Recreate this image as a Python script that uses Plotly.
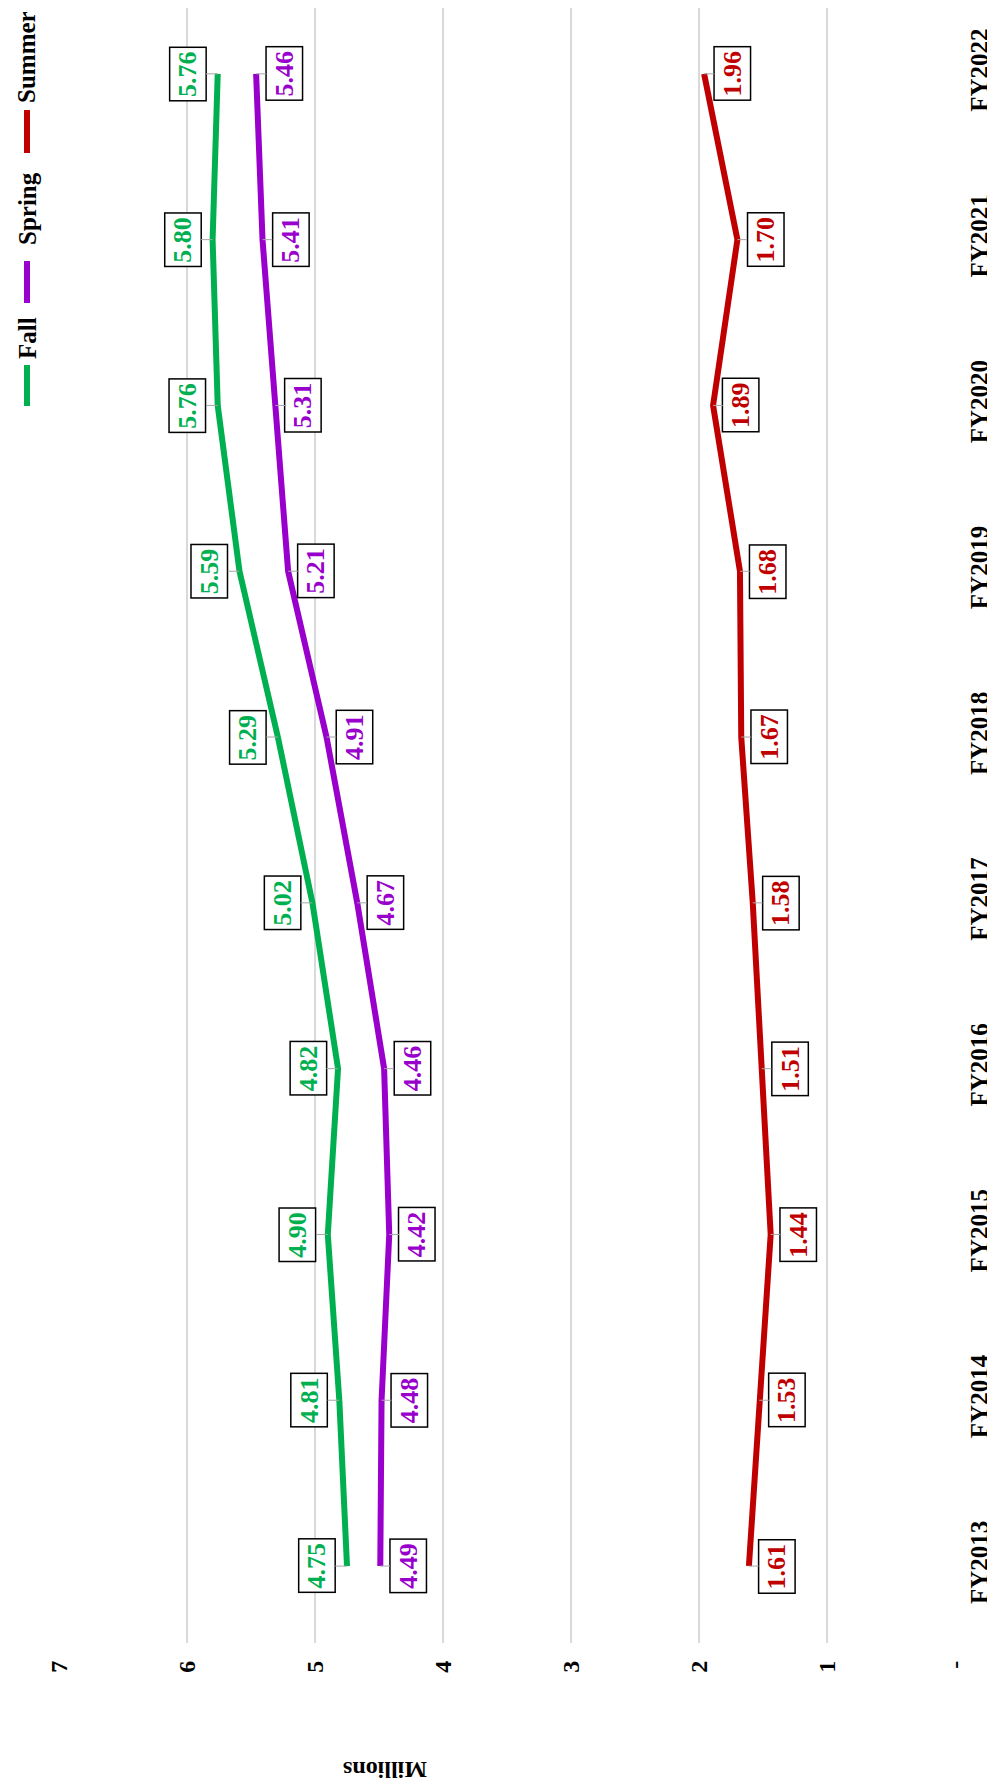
import plotly.graph_objects as go

categories = ["FY2013", "FY2014", "FY2015", "FY2016", "FY2017",
              "FY2018", "FY2019", "FY2020", "FY2021", "FY2022"]
fall = [4.75, 4.81, 4.90, 4.82, 5.02, 5.29, 5.59, 5.76, 5.80, 5.76]
spring = [4.49, 4.48, 4.42, 4.46, 4.67, 4.91, 5.21, 5.31, 5.41, 5.46]
summer = [1.61, 1.53, 1.44, 1.51, 1.58, 1.67, 1.68, 1.89, 1.70, 1.96]
value_ticks = [0, 1, 2, 3, 4, 5, 6, 7]
value_tick_labels = ["-", "1", "2", "3", "4", "5", "6", "7"]

series = [
    ("Fall", fall, "#00B050", -30),
    ("Spring", spring, "#9900CC", 28),
    ("Summer", summer, "#C00000", 28),
]

FONT = "Liberation Serif"
W, H = 995, 1784
ML, MR, MT, MB = 51, 48, 0, 149
PW, PH = W - ML - MR, H - MT - MB


def px(x):
    return (x - ML) / PW


def py(y):
    return 1 - (y - MT) / PH


fig = go.Figure()
annotations = []
for name, vals, color, dx in series:
    fig.add_trace(go.Scatter(
        x=vals, y=categories, mode="lines", name=name,
        line=dict(color=color, width=6), showlegend=False,
    ))
    for c, v in zip(categories, vals):
        annotations.append(dict(
            x=v, y=c, xref="x", yref="y", text=f"<b>{v:.2f}</b>",
            textangle=-90, font=dict(family=FONT, size=26, color=color),
            bgcolor="white", bordercolor="black", borderwidth=1.5, borderpad=3,
            showarrow=True, arrowhead=0, arrowcolor="#A6A6A6", arrowwidth=1,
            ax=dx, ay=0, standoff=0,
        ))

# axis title
annotations.append(dict(
    x=px(377), y=py(1762), xref="paper", yref="paper", text="<b>Millions</b>",
    textangle=180, showarrow=False, xanchor="center", yanchor="middle",
    font=dict(family=FONT, size=24, color="black"),
))

# manual rotated legend
legend_items = [("Summer", "#C00000", 49, 102, 145),
                ("Spring", "#9900CC", 201, 253, 295),
                ("Fall", "#00B050", 330, 357, 398)]
shapes = []
for name, color, ty, y0, y1 in legend_items:
    annotations.append(dict(
        x=px(19), y=py(ty), xref="paper", yref="paper", text=f"<b>{name}</b>",
        textangle=-90, showarrow=False, xanchor="center", yanchor="middle",
        font=dict(family=FONT, size=25, color="black"),
    ))
    shapes.append(dict(
        type="line", xref="paper", yref="paper",
        x0=px(19), x1=px(19), y0=py(y0), y1=py(y1),
        line=dict(color=color, width=6),
    ))

fig.update_layout(
    width=W, height=H,
    margin=dict(l=ML, r=MR, t=MT, b=MB),
    paper_bgcolor="white", plot_bgcolor="white",
    annotations=annotations, shapes=shapes,
    showlegend=False,
    xaxis=dict(
        range=[7, 0], tickvals=value_ticks, ticktext=value_tick_labels,
        tickangle=-90, showgrid=True, gridcolor="#D9D9D9", gridwidth=1.5,
        zeroline=False, showline=False, ticks="",
        tickfont=dict(family=FONT, size=24, color="black", weight="bold"),
        ticklabelstandoff=12,
    ),
    yaxis=dict(
        type="category", categoryorder="array", categoryarray=categories,
        range=[-0.464, 9.397], side="right", tickangle=-90,
        showgrid=False, zeroline=False, showline=False, ticks="",
        tickfont=dict(family=FONT, size=25, color="black", weight="bold"),
        ticklabelstandoff=7,
    ),
)

fig.write_html("out.html")
